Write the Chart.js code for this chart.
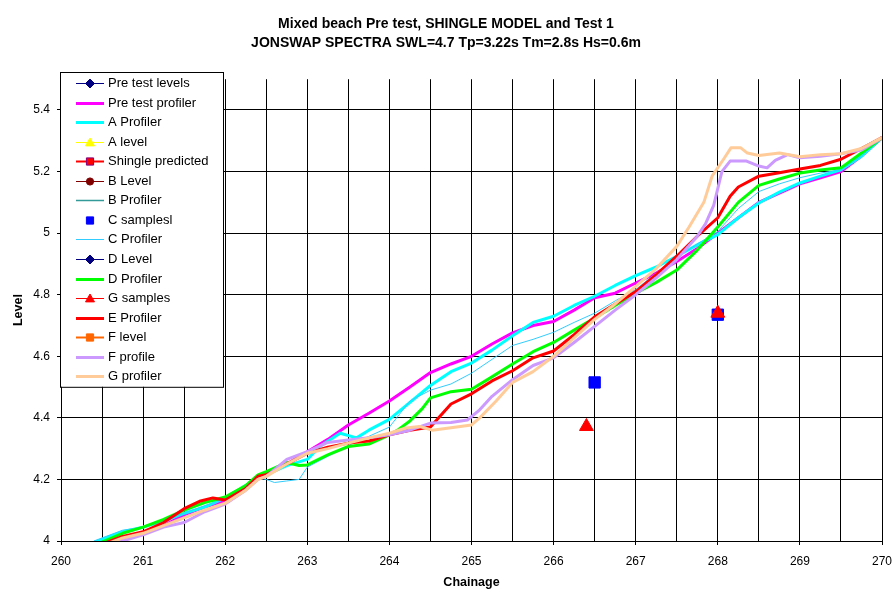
<!DOCTYPE html>
<html>
<head>
<meta charset="utf-8">
<title>Mixed beach Pre test, SHINGLE MODEL and Test 1</title>
<script src="https://cdn.jsdelivr.net/npm/chart.js@4.4.1/dist/chart.umd.min.js"></script>
<style>
    html, body { margin: 0; padding: 0; background: #fff; }
</style>
</head>
<body>
<canvas id="beachChart" width="892" height="590"></canvas>
<script>
// Chainage / level readings for each profile
const preTestChainage = [260.4, 260.75, 261, 261.25, 261.5, 261.75, 262, 262.25, 262.4, 262.5, 262.75, 263, 263.25, 263.5, 263.75, 264, 264.25, 264.5, 264.75, 265, 265.25, 265.5, 265.75, 266, 266.25, 266.5, 266.75, 267, 267.25, 267.5, 267.75, 268, 268.25, 268.5, 268.75, 269, 269.25, 269.5, 269.75, 270];
const preTestLevel = [3.98, 4.01, 4.025, 4.05, 4.085, 4.11, 4.13, 4.17, 4.205, 4.215, 4.25, 4.29, 4.33, 4.377, 4.415, 4.455, 4.5, 4.547, 4.575, 4.6, 4.64, 4.676, 4.7, 4.713, 4.75, 4.79, 4.805, 4.838, 4.87, 4.908, 4.95, 5.0, 5.05, 5.1, 5.13, 5.16, 5.18, 5.2, 5.25, 5.31];

const aChainage = [260.4, 260.75, 261, 261.25, 261.5, 261.75, 262, 262.25, 262.4, 262.5, 262.75, 263, 263.15, 263.4, 263.6, 263.75, 264, 264.25, 264.5, 264.75, 265, 265.25, 265.5, 265.75, 266, 266.25, 266.5, 266.75, 267, 267.25, 267.5, 267.75, 268, 268.25, 268.5, 268.75, 269, 269.25, 269.5, 269.75, 270];
const aLevel = [3.995, 4.03, 4.045, 4.065, 4.09, 4.11, 4.14, 4.18, 4.21, 4.215, 4.245, 4.265, 4.307, 4.35, 4.335, 4.36, 4.395, 4.45, 4.505, 4.55, 4.578, 4.62, 4.667, 4.71, 4.73, 4.765, 4.795, 4.83, 4.862, 4.89, 4.925, 4.962, 4.995, 5.05, 5.098, 5.133, 5.163, 5.185, 5.206, 5.25, 5.31];

const cChainage = [260.4, 260.75, 261, 261.25, 261.5, 261.75, 262, 262.25, 262.4, 262.5, 262.6, 262.75, 262.9, 263, 263.25, 263.5, 263.75, 264, 264.25, 264.5, 264.75, 265, 265.25, 265.5, 265.75, 266, 266.25, 266.5, 266.75, 267, 267.25, 267.5, 267.75, 268, 268.25, 268.5, 268.75, 269, 269.25, 269.5, 269.75, 270];
const cLevel = [4.0, 4.035, 4.045, 4.065, 4.09, 4.115, 4.135, 4.175, 4.205, 4.2, 4.19, 4.195, 4.2, 4.24, 4.275, 4.31, 4.34, 4.37, 4.455, 4.49, 4.51, 4.545, 4.59, 4.635, 4.655, 4.678, 4.71, 4.74, 4.78, 4.817, 4.87, 4.92, 4.965, 5.005, 5.08, 5.135, 5.16, 5.18, 5.195, 5.206, 5.25, 5.31];

const dChainage = [260.4, 260.75, 261, 261.25, 261.5, 261.75, 262, 262.25, 262.4, 262.5, 262.75, 262.9, 263, 263.25, 263.5, 263.75, 264, 264.1, 264.25, 264.4, 264.5, 264.75, 265, 265.2, 265.5, 265.75, 266, 266.25, 266.5, 266.75, 267, 267.25, 267.5, 267.75, 268, 268.25, 268.5, 268.75, 269, 269.25, 269.5, 269.75, 270];
const dLevel = [3.985, 4.025, 4.045, 4.07, 4.1, 4.125, 4.143, 4.18, 4.215, 4.225, 4.255, 4.245, 4.247, 4.28, 4.307, 4.315, 4.345, 4.36, 4.39, 4.43, 4.465, 4.485, 4.493, 4.525, 4.575, 4.615, 4.645, 4.685, 4.724, 4.765, 4.805, 4.84, 4.88, 4.945, 5.02, 5.1, 5.155, 5.176, 5.195, 5.205, 5.212, 5.26, 5.31];

const eChainage = [260.4, 260.75, 261, 261.25, 261.5, 261.7, 261.85, 262, 262.25, 262.4, 262.5, 262.75, 263, 263.25, 263.5, 263.75, 264, 264.25, 264.5, 264.6, 264.75, 265, 265.25, 265.5, 265.75, 266, 266.25, 266.5, 266.75, 267, 267.25, 267.5, 267.75, 268, 268.15, 268.25, 268.5, 268.75, 269, 269.25, 269.5, 269.75, 270];
const eLevel = [3.98, 4.015, 4.03, 4.06, 4.105, 4.13, 4.14, 4.133, 4.17, 4.21, 4.215, 4.25, 4.285, 4.305, 4.318, 4.325, 4.345, 4.36, 4.37, 4.4, 4.445, 4.478, 4.52, 4.553, 4.595, 4.617, 4.67, 4.728, 4.77, 4.81, 4.865, 4.925, 4.99, 5.05, 5.12, 5.15, 5.185, 5.196, 5.208, 5.22, 5.24, 5.275, 5.31];

const fChainage = [260.4, 260.75, 261, 261.25, 261.5, 261.75, 262, 262.25, 262.4, 262.5, 262.75, 263, 263.25, 263.5, 263.75, 264, 264.25, 264.5, 264.75, 264.95, 265.1, 265.25, 265.5, 265.75, 266, 266.25, 266.5, 266.75, 267, 267.25, 267.5, 267.75, 267.85, 267.95, 268.05, 268.15, 268.35, 268.5, 268.6, 268.7, 268.85, 269, 269.25, 269.5, 269.75, 270];
const fLevel = [3.97, 4.0, 4.02, 4.045, 4.06, 4.095, 4.12, 4.165, 4.2, 4.21, 4.265, 4.29, 4.32, 4.328, 4.335, 4.345, 4.36, 4.383, 4.385, 4.393, 4.426, 4.47, 4.524, 4.57, 4.595, 4.645, 4.697, 4.75, 4.8, 4.855, 4.914, 4.99, 5.03, 5.09, 5.2, 5.234, 5.234, 5.218, 5.212, 5.236, 5.255, 5.245, 5.25, 5.258, 5.27, 5.31];

const gChainage = [260.4, 260.75, 261, 261.25, 261.5, 261.75, 262, 262.25, 262.4, 262.5, 262.75, 263, 263.25, 263.5, 263.75, 264, 264.2, 264.37, 264.52, 264.75, 265, 265.1, 265.3, 265.5, 265.75, 266, 266.25, 266.5, 266.75, 267, 267.25, 267.5, 267.65, 267.83, 267.93, 268.07, 268.16, 268.28, 268.36, 268.5, 268.75, 269, 269.25, 269.5, 269.75, 270];
const gLevel = [3.975, 4.01, 4.025, 4.05, 4.075, 4.1, 4.123, 4.165, 4.2, 4.21, 4.25, 4.285, 4.3, 4.318, 4.335, 4.35, 4.367, 4.372, 4.36, 4.368, 4.377, 4.4, 4.455, 4.515, 4.55, 4.6, 4.66, 4.72, 4.77, 4.827, 4.885, 4.957, 5.02, 5.1, 5.185, 5.24, 5.277, 5.277, 5.26, 5.252, 5.26, 5.248, 5.255, 5.258, 5.275, 5.31];

// sample points
const cSampleChainage = [266.5, 268.0];
const cSampleLevel = [4.515, 4.735];
const gSampleChainage = [266.4, 267.2, 268.0];
const gSampleLevel = [4.372, null, 4.74];

const xTicks = [260, 261, 262, 263, 264, 265, 266, 267, 268, 269, 270];

function pts(xs, ys) {
    return xs.map((x, i) => ({ x: x, y: ys[i] }));
}

function profile(label, color, width, data) {
    return { label: label, data: data, showLine: true, borderColor: color, backgroundColor: color,
        borderWidth: width, pointRadius: 0, borderJoinStyle: 'round', tension: 0 };
}

function levelSeries(label, color, width, style, fill, stroke, data) {
    return { label: label, data: data, showLine: width > 0, borderColor: color, backgroundColor: fill,
        borderWidth: width, pointStyle: style, pointRadius: 8, pointBackgroundColor: fill,
        pointBorderColor: stroke, pointBorderWidth: 1 };
}

const datasets = [
    levelSeries('Pre test levels', '#000080', 1, 'rectRot', '#000080', '#000080', []),
    profile('Pre test profiler', '#ff00ff', 3, pts(preTestChainage, preTestLevel)),
    profile('A Profiler', '#00ffff', 3, pts(aChainage, aLevel)),
    levelSeries('A level', '#ffff00', 1, 'triangle', '#ffff00', '#ffff00', []),
    levelSeries('Shingle predicted', '#ff0000', 2, 'rect', '#ff0000', '#800080', []),
    levelSeries('B Level', '#800000', 1, 'circle', '#800000', '#800000', []),
    profile('B Profiler', '#339999', 1.5, []),
    levelSeries('C samplesl', '#0000ff', 0, 'rect', '#0000ff', '#0000ff', pts(cSampleChainage, cSampleLevel)),
    profile('C Profiler', '#33ccff', 1, pts(cChainage, cLevel)),
    levelSeries('D Level', '#000080', 1, 'rectRot', '#000080', '#000080', []),
    profile('D Profiler', '#00ff00', 3, pts(dChainage, dLevel)),
    levelSeries('G samples', '#ff0000', 1, 'triangle', '#ff0000', '#ff0000', pts(gSampleChainage, gSampleLevel)),
    profile('E Profiler', '#ff0000', 3, pts(eChainage, eLevel)),
    levelSeries('F level', '#ff6600', 2, 'rect', '#ff6600', '#ff6600', []),
    profile('F profile', '#cc99ff', 3, pts(fChainage, fLevel)),
    profile('G profiler', '#ffcc99', 3, pts(gChainage, gLevel))
];
// later series are drawn on top, like the original
datasets.forEach((ds, i) => { ds.order = datasets.length - i; });

function drawMarker(ctx, style, x, y, r, fill, stroke) {
    ctx.beginPath();
    if (style === 'rectRot') {
        ctx.moveTo(x, y - r); ctx.lineTo(x + r, y); ctx.lineTo(x, y + r); ctx.lineTo(x - r, y);
    } else if (style === 'triangle') {
        ctx.moveTo(x, y - r); ctx.lineTo(x + r, y + r * 0.75); ctx.lineTo(x - r, y + r * 0.75);
    } else if (style === 'rect') {
        ctx.rect(x - r * 0.8, y - r * 0.8, r * 1.6, r * 1.6);
    } else {
        ctx.arc(x, y, r * 0.8, 0, Math.PI * 2);
    }
    ctx.closePath();
    ctx.fillStyle = fill;
    ctx.fill();
    ctx.strokeStyle = stroke;
    ctx.lineWidth = 1;
    ctx.stroke();
}

// boxed legend sitting over the top-left of the plot
const boxLegend = {
    id: 'boxLegend',
    afterDatasetsDraw(chart) {
        const ctx = chart.ctx;
        const left = 60, top = 72, width = 163, rowH = 19.55;
        const items = chart.data.datasets;
        const height = items.length * rowH + 2;
        ctx.save();
        ctx.fillStyle = '#fff';
        ctx.fillRect(left, top, width, height);
        ctx.strokeStyle = '#000';
        ctx.lineWidth = 1;
        ctx.strokeRect(left + 0.5, top + 0.5, width, height);
        ctx.font = "13px 'Liberation Sans', Arial, sans-serif";
        ctx.textBaseline = 'middle';
        items.forEach((ds, i) => {
            const y = Math.round(top + 11 + i * rowH) + 0.5;
            if (ds.showLine && ds.borderWidth > 0) {
                ctx.beginPath();
                ctx.moveTo(76, y);
                ctx.lineTo(104, y);
                ctx.strokeStyle = ds.borderColor;
                ctx.lineWidth = ds.borderWidth;
                ctx.stroke();
            }
            if (ds.pointRadius > 0) {
                drawMarker(ctx, ds.pointStyle, 90, y, 4.5, ds.pointBackgroundColor, ds.pointBorderColor);
            }
            ctx.fillStyle = '#000';
            ctx.fillText(ds.label, 108, y);
        });
        ctx.restore();
    }
};

Chart.defaults.font.family = "'Liberation Sans', Arial, sans-serif";
Chart.defaults.color = '#000';

const ctx = document.getElementById('beachChart').getContext('2d');
new Chart(ctx, {
    type: 'scatter',
    data: { datasets: datasets },
    plugins: [boxLegend],
    options: {
        responsive: false,
        animation: false,
        layout: { padding: { left: 0, right: 0, top: 0, bottom: 0 } },
        plugins: {
            legend: { display: false },
            tooltip: { enabled: false },
            title: {
                display: true,
                text: ['Mixed beach Pre test, SHINGLE MODEL and Test 1', 'JONSWAP SPECTRA SWL=4.7 Tp=3.22s Tm=2.8s Hs=0.6m'],
                font: { size: 14, weight: 'bold', lineHeight: 1.4 },
                color: '#000',
                padding: { top: 14, bottom: 26 }
            }
        },
        scales: {
            x: {
                type: 'linear',
                min: 260,
                max: 270,
                afterFit: s => { s.height = 49; s.paddingLeft = 0; s.paddingRight = 10; },
                ticks: {
                    stepSize: 0.5,
                    padding: 9,
                    font: { size: 12 },
                    callback: v => xTicks.includes(v) ? String(v) : ''
                },
                grid: {
                    color: '#000',
                    tickLength: 4,
                    tickColor: c => (c.tick && Number.isInteger(c.tick.value)) ? '#000' : 'rgba(0,0,0,0)'
                },
                border: { color: '#000' },
                title: { display: true, text: 'Chainage', font: { size: 12.5, weight: 'bold' }, padding: { top: 0, bottom: 0 } }
            },
            y: {
                min: 4,
                max: 5.5,
                afterFit: s => { s.width = 61; },
                ticks: {
                    stepSize: 0.2,
                    includeBounds: false,
                    padding: 7,
                    font: { size: 12 },
                    callback: v => String(Number(v.toFixed(1)))
                },
                grid: { color: '#000', tickLength: 4 },
                border: { color: '#000' },
                title: { display: true, text: 'Level', font: { size: 12.5, weight: 'bold' }, padding: { top: 11, bottom: 0 } }
            }
        }
    }
});
</script>
</body>
</html>
